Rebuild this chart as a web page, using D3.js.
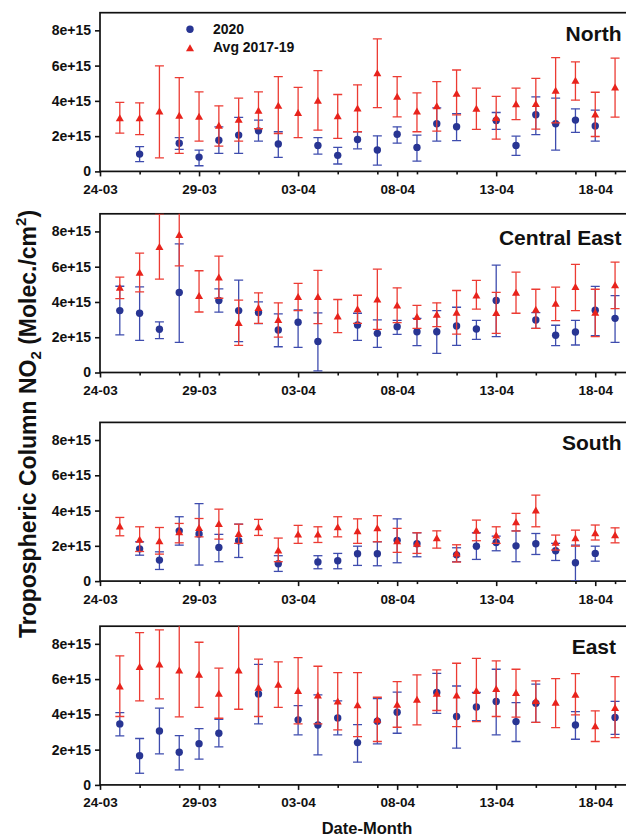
<!DOCTYPE html>
<html><head><meta charset="utf-8">
<script src="https://cdn.jsdelivr.net/npm/d3@7"></script>
<style>
body{margin:0;background:#fff}
svg{display:block}
text{font-family:"Liberation Sans",Arial,Helvetica,sans-serif;font-weight:bold;fill:#111}
</style>
</head><body>
<svg id="c" width="626" height="839"></svg>
<script>
// ---------- data (units of 1e15 molec/cm2) ----------
const dates = ["25-03","26-03","27-03","28-03","29-03","30-03","31-03","01-04","02-04","03-04","04-04","05-04","06-04",
               "07-04","08-04","09-04","10-04","11-04","12-04","13-04","14-04","15-04","16-04","17-04","18-04","19-04"];
const panelNames = ["North","Central East","South","East"];
const yTicks = [0,2,4,6,8];
const yTickLabels = ["0","2e+15","4e+15","6e+15","8e+15"];
const xMajorTicks = ["24-03","29-03","03-04","08-04","13-04","18-04"];
const xMinorTicks = ["26-03","28-03","30-03","01-04","05-04","07-04","09-04","11-04","15-04","17-04","19-04"];
const seriesNames = ["2020","Avg 2017-19"];

// North
const north2020   = [null,0.98,null,1.60,0.81,1.77,2.06,2.30,1.55,null,1.47,0.91,1.81,1.21,2.11,1.36,2.70,2.53,null,2.89,1.47,3.21,2.70,2.91,2.58,null];
const north2020Lo = [null,0.55,null,1.25,0.32,1.02,1.02,1.72,0.79,null,0.98,0.42,1.28,0.36,1.60,0.58,1.72,1.74,null,2.38,0.91,2.08,1.21,2.21,1.72,null];
const north2020Hi = [null,1.40,null,1.91,1.21,2.52,3.06,2.91,2.25,null,1.92,1.36,2.25,2.02,2.53,2.06,3.60,3.28,null,3.34,2.00,4.23,4.15,3.55,3.47,null];
const northAvg    = [3.04,3.04,3.42,3.19,3.13,2.62,2.96,3.47,3.75,3.34,4.04,3.15,3.60,5.60,4.26,3.42,3.72,4.43,3.58,3.06,3.83,3.85,4.60,5.17,3.26,4.79];
const northAvgLo  = [2.17,2.09,0.77,1.02,1.72,1.43,1.72,2.42,2.15,1.91,2.34,1.87,2.25,3.62,3.09,2.25,2.28,3.20,2.38,1.83,2.94,2.40,2.75,4.04,1.98,3.08];
const northAvgHi  = [3.91,3.89,5.98,5.32,4.51,3.72,4.15,4.51,5.38,4.77,5.72,4.36,4.91,7.51,5.38,4.45,5.09,5.75,4.72,4.26,4.72,5.28,6.45,6.21,4.49,6.42];

// Central East
const ce2020   = [3.51,3.36,2.45,4.54,null,4.08,3.51,3.40,2.41,2.85,1.76,null,2.69,2.22,2.60,2.31,2.31,2.64,2.47,4.08,null,2.98,2.11,2.30,3.53,3.07];
const ce2020Lo = [2.13,1.82,1.92,1.71,null,3.42,1.75,2.77,1.46,1.42,0.09,null,1.82,1.42,2.16,1.52,1.08,1.54,1.88,2.03,null,2.50,1.52,1.56,2.09,1.71];
const ce2020Hi = [4.89,4.86,2.87,7.29,null,4.74,5.24,4.00,3.32,3.55,3.38,null,3.36,2.98,2.96,3.07,3.51,3.70,2.96,6.09,null,3.40,2.68,2.96,4.88,4.36];
const ceAvg    = [4.84,5.69,7.15,7.82,4.36,5.41,2.83,3.68,3.00,4.31,4.31,3.21,3.61,4.17,3.83,3.17,3.30,3.42,4.40,3.40,4.55,3.59,3.93,4.88,3.42,4.97];
const ceAvgLo  = [4.19,4.57,5.29,6.05,3.43,4.21,1.54,2.79,2.01,3.51,2.77,2.26,2.79,2.45,2.83,2.50,2.60,2.18,3.59,2.22,3.36,2.50,2.94,3.51,2.03,3.62];
const ceAvgHi  = [5.41,6.77,9.00,9.60,5.77,6.60,4.10,4.52,3.95,5.05,5.79,4.14,4.38,5.86,4.80,3.81,3.95,4.65,5.22,4.54,5.69,4.72,4.84,6.13,4.72,6.26];

// South
const south2020   = [null,1.83,1.19,2.85,2.67,1.91,2.29,null,0.98,null,1.08,1.15,1.55,1.55,2.31,2.12,null,1.49,1.98,2.19,2.00,2.12,1.72,1.04,1.57,null];
const south2020Lo = [null,1.47,0.66,2.04,0.91,1.10,1.34,null,0.55,null,0.70,0.70,0.89,0.87,1.04,1.38,null,1.10,1.23,1.72,1.10,1.51,1.17,0.00,1.13,null];
const south2020Hi = [null,2.23,1.66,3.65,4.39,2.65,3.23,null,1.44,null,1.44,1.57,1.98,2.23,3.53,2.74,null,1.89,2.74,2.55,2.85,2.70,2.14,2.04,1.98,null];
const southAvg    = [3.12,2.38,2.29,2.80,3.04,3.27,2.70,3.08,1.76,2.67,2.67,3.08,2.85,3.02,2.29,2.14,2.46,1.59,2.89,2.61,3.36,4.03,2.21,2.46,2.74,2.63];
const southAvgLo  = [2.57,1.68,1.53,2.17,2.51,2.38,2.14,2.59,1.10,2.14,2.19,2.51,2.14,2.23,1.63,1.57,1.87,1.08,2.29,2.14,2.84,3.08,1.76,1.98,2.33,2.17];
const southAvgHi  = [3.61,3.08,3.04,3.27,3.55,4.08,3.23,3.50,2.44,3.16,3.08,3.65,3.53,3.71,2.99,2.74,2.85,2.06,3.46,3.08,3.84,4.88,2.61,2.89,3.18,3.02];

// East
const east2020   = [3.46,1.66,3.06,1.85,2.34,2.93,null,5.16,null,3.69,3.40,3.80,2.40,3.61,4.12,null,5.24,3.88,4.42,4.73,3.59,4.63,null,3.40,null,3.82];
const east2020Lo = [2.78,0.66,1.76,0.85,1.46,2.16,null,3.46,null,2.84,1.70,2.84,1.29,2.33,2.93,null,4.06,2.08,3.65,2.84,2.46,3.55,null,2.59,null,2.87];
const east2020Hi = [4.10,2.63,4.35,2.80,3.19,3.72,null,6.84,null,4.50,5.10,4.76,3.42,4.90,5.26,null,6.33,5.61,5.24,6.56,4.67,5.71,null,4.16,null,4.74];
const eastAvg    = [5.61,6.71,6.86,6.52,6.28,5.20,6.52,5.54,5.71,5.35,5.10,4.76,4.54,3.72,4.57,4.86,5.20,5.10,5.35,5.46,5.24,4.78,4.69,5.14,3.35,4.39];
const eastAvgLo  = [3.88,4.76,4.88,3.86,4.40,3.78,4.29,3.88,4.40,3.46,3.46,3.12,2.74,2.46,3.27,3.40,4.22,3.31,3.59,3.88,3.84,3.55,3.25,3.97,2.46,2.68];
const eastAvgHi  = [7.32,8.64,8.79,9.20,8.09,6.62,9.30,7.13,6.98,7.22,6.73,6.37,6.37,4.97,5.86,6.24,6.52,6.90,7.18,7.03,6.56,5.90,6.03,6.31,4.20,6.14];

const panelData = [
  {s2020:[north2020,north2020Lo,north2020Hi], avg:[northAvg,northAvgLo,northAvgHi]},
  {s2020:[ce2020,ce2020Lo,ce2020Hi],          avg:[ceAvg,ceAvgLo,ceAvgHi]},
  {s2020:[south2020,south2020Lo,south2020Hi], avg:[southAvg,southAvgLo,southAvgHi]},
  {s2020:[east2020,east2020Lo,east2020Hi],    avg:[eastAvg,eastAvgLo,eastAvgHi]}
];

// ---------- layout ----------
const parse = s => d3.timeParse("%d-%m-%Y")(s + "-2020");
const W = 626, H = 839;
const left = 100, dayPx = 19.81;
const panelTops = [12.7, 213.8, 422.4, 626.2];
const panelH = 158.7;
const blueMark = "#283593", blueBar = "#3e4cae";
const redMark = "#e8231c", redBar = "#ec3b33";

const svg = d3.select("#c");
const x = d3.scaleTime().domain([parse("24-03"), parse("21-04")]).range([left, left + 28*dayPx]);
const y = d3.scaleLinear().domain([0, 9]).range([panelH, 0]);

function triPath(cx, cy, w, h) {
  return `M${cx - w/2},${cy + h/2}L${cx + w/2},${cy + h/2}L${cx},${cy - h/2}Z`;
}

panelData.forEach((pd, pi) => {
  const g = svg.append("g").attr("transform", `translate(0,${panelTops[pi]})`);
  const clipId = "clip" + pi;
  g.append("clipPath").attr("id", clipId).append("rect")
    .attr("x", left).attr("y", 0).attr("width", W).attr("height", panelH);

  // axes
  const ya = g.append("g").attr("transform", `translate(${left},0)`)
    .call(d3.axisLeft(y).tickValues(yTicks).tickFormat((d,i) => yTickLabels[i]).tickSize(5).tickPadding(4));
  const xa = g.append("g").attr("transform", `translate(0,${panelH})`)
    .call(d3.axisBottom(x).tickValues(xMajorTicks.map(parse)).tickFormat((d,i) => xMajorTicks[i]).tickSize(5).tickPadding(8));
  const xm = g.append("g").attr("transform", `translate(0,${panelH})`)
    .call(d3.axisBottom(x).tickValues(xMinorTicks.map(parse)).tickFormat("").tickSize(3));
  [ya, xa, xm].forEach(a => {
    a.select(".domain").remove();
    a.selectAll(".tick line").attr("stroke", "#111").attr("stroke-width", 1.6);
    a.selectAll("text").attr("font-size", "13.5px").attr("font-weight", "bold")
      .attr("font-family", '"Liberation Sans",Arial,sans-serif').attr("fill", "#111");
  });
  ya.selectAll("text").attr("font-size", "14px");

  // frame
  g.append("rect").attr("x", left).attr("y", 0).attr("width", 28*dayPx).attr("height", panelH)
    .attr("fill", "none").attr("stroke", "#111").attr("stroke-width", 1.7);

  const plot = g.append("g").attr("clip-path", `url(#${clipId})`);

  function drawSeries(arrs, barColor, markColor, shape) {
    const [m, lo, hi] = arrs;
    const pts = dates.map((d, i) => ({x: x(parse(d)), m: m[i], lo: lo[i], hi: hi[i]})).filter(p => p.m != null);
    const bars = plot.append("g").attr("stroke", barColor).attr("stroke-width", 1.3).attr("fill", "none");
    pts.forEach(p => {
      bars.append("line").attr("x1", p.x).attr("x2", p.x).attr("y1", y(p.lo)).attr("y2", y(p.hi));
      bars.append("line").attr("x1", p.x - 4.5).attr("x2", p.x + 4.5).attr("y1", y(p.lo)).attr("y2", y(p.lo));
      bars.append("line").attr("x1", p.x - 4.5).attr("x2", p.x + 4.5).attr("y1", y(p.hi)).attr("y2", y(p.hi));
    });
    const mk = plot.append("g").attr("fill", markColor);
    pts.forEach(p => {
      if (shape === "circle") mk.append("circle").attr("cx", p.x).attr("cy", y(p.m)).attr("r", 3.7);
      else mk.append("path").attr("d", triPath(p.x, y(p.m), 8, 7));
    });
  }
  drawSeries(pd.s2020, blueBar, blueMark, "circle");
  drawSeries(pd.avg, redBar, redMark, "tri");

  // panel title
  g.append("text").attr("x", pi === 3 ? 616 : 621.5).attr("y", pi === 1 ? 31 : 28)
    .attr("text-anchor", "end").attr("font-size", "21px").text(panelNames[pi]);

  if (pi === 0) {
    const lg = g.append("g");
    lg.append("circle").attr("cx", 190).attr("cy", 16.6).attr("r", 3.7).attr("fill", blueMark);
    lg.append("text").attr("x", 213).attr("y", 21.5).attr("font-size", "14px").text(seriesNames[0]);
    lg.append("path").attr("d", triPath(190, 35, 8, 7)).attr("fill", redMark);
    lg.append("text").attr("x", 213).attr("y", 39.5).attr("font-size", "14px").text(seriesNames[1]);
  }
});

// y axis title
const yt = svg.append("text").attr("transform", "translate(36,424) rotate(-90)")
  .attr("text-anchor", "middle").attr("font-size", "23px");
yt.append("tspan").text("Tropospheric Column NO");
yt.append("tspan").attr("font-size", "15px").attr("dy", 5).text("2");
yt.append("tspan").attr("dy", -5).text(" (Molec./cm");
yt.append("tspan").attr("font-size", "15px").attr("dy", -10).text("2");
yt.append("tspan").attr("dy", 10).text(")");

// x axis title
svg.append("text").attr("x", 367).attr("y", 834).attr("text-anchor", "middle")
  .attr("font-size", "16.5px").text("Date-Month");
</script>
</body></html>
